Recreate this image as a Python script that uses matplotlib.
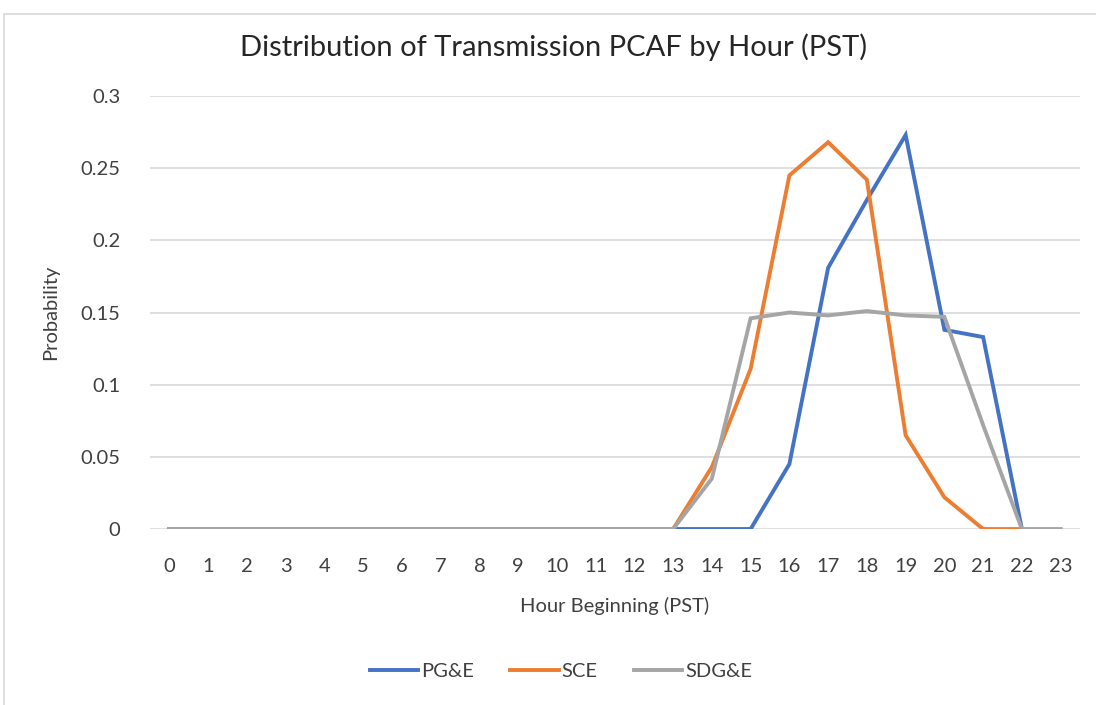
import numpy as np
import matplotlib.pyplot as plt
from matplotlib.patches import Rectangle

# Data
hours = list(range(24))
pge = [0]*15 + [0, 0.045, 0.181, 0.228, 0.273, 0.138, 0.133, 0]
sce = [0]*13 + [0, 0.043, 0.111, 0.245, 0.268, 0.242, 0.065, 0.022, 0, 0]
sdge = [0]*13 + [0, 0.035, 0.146, 0.150, 0.148, 0.151, 0.148, 0.147, 0.072, 0, 0]

series = [("PG&E", pge, "#4472C4"), ("SCE", sce, "#ED7D31"), ("SDG&E", sdge, "#A5A5A5")]

plt.rcParams['font.family'] = ['Lato', 'DejaVu Sans']

fig = plt.figure(figsize=(10.96, 7.05), dpi=100)
ax = fig.add_axes([0.1369, 0.2496, 0.8485, 0.6142])

for name, vals, col in series:
    ax.plot(hours[:len(vals)], vals, color=col, linewidth=2.8, label=name,
            solid_joinstyle='miter')

ax.set_xlim(-0.5, 23.5)
ax.set_ylim(0, 0.3)
ax.set_yticks(np.arange(0, 0.301, 0.05))
ax.set_yticklabels(["0", "0.05", "0.1", "0.15", "0.2", "0.25", "0.3"])
ax.set_xticks(hours)
ax.set_xticklabels([str(h) for h in hours])
ax.tick_params(length=0, labelsize=14.5, colors="#404040")
ax.tick_params(axis='x', pad=21)
ax.tick_params(axis='y', pad=21.5)
ax.grid(axis='y', color="#D9D9D9", linewidth=1.2)
ax.set_axisbelow(True)
for s in ax.spines.values():
    s.set_visible(False)

ax.set_xlabel("Hour Beginning (PST)", fontsize=14.5, color="#404040", labelpad=16)
ax.set_ylabel("Probability", fontsize=14.5, color="#404040", labelpad=15)
fig.text(0.505, 0.933, "Distribution of Transmission PCAF by Hour (PST)",
         ha='center', va='center', fontsize=21, color="#262626")

ax.legend(loc='center', bbox_to_anchor=(0.442, -0.33), ncol=3, frameon=False,
          fontsize=14.5, handlelength=2.4, handletextpad=0.15, columnspacing=1.8,
          labelcolor="#404040")

fig.patches.append(Rectangle((0.004, -0.01), 1.1, 1.0 - 0.01, transform=fig.transFigure,
                             fill=False, edgecolor="#D9D9D9", linewidth=1.2))

fig.savefig("out.png", dpi=100)
